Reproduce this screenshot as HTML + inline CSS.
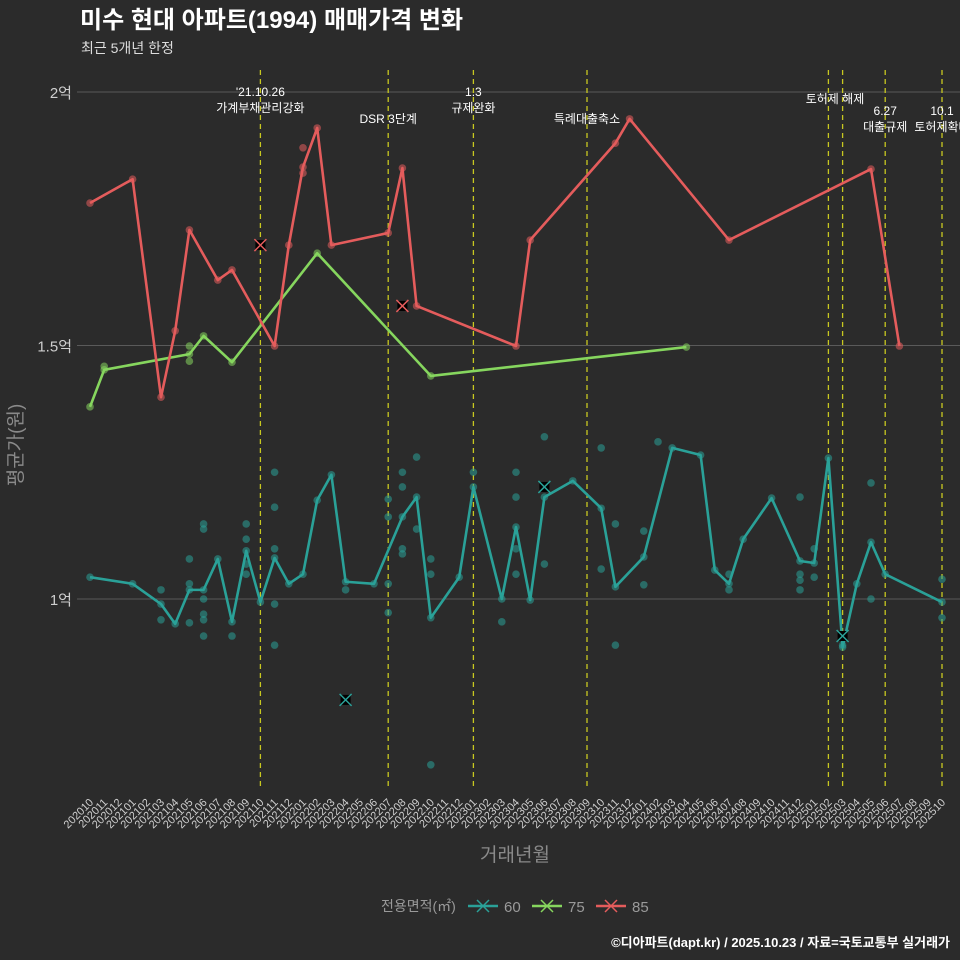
<!DOCTYPE html>
<html><head><meta charset="utf-8">
<style>
body{margin:0;background:#2b2b2b;}
#wrap{position:relative;width:960px;height:960px;background:#2b2b2b;font-family:"Liberation Sans","Noto Sans CJK KR",sans-serif;overflow:hidden}
svg text{font-family:"Liberation Sans","Noto Sans CJK KR",sans-serif}
</style></head>
<body>
<div id="wrap">
<svg id="chart" width="960" height="960" xmlns="http://www.w3.org/2000/svg">
<text x="80" y="28" font-size="24" font-weight="bold" fill="#ffffff">미수 현대 아파트(1994) 매매가격 변화</text>
<text x="81" y="53" font-size="14" fill="#dddddd">최근 5개년 한정</text>
<text x="515" y="861" font-size="19" fill="#8a8a8a" text-anchor="middle">거래년월</text>
<text transform="translate(22,445) rotate(-90)" font-size="19" fill="#8a8a8a" text-anchor="middle">평균가(원)</text>
<text x="950" y="947" font-size="13" font-weight="bold" fill="#ffffff" text-anchor="end">©디아파트(dapt.kr) / 2025.10.23 / 자료=국토교통부 실거래가</text>
<g id="grid"></g><g id="vlines"></g><g id="series"></g><g id="xticks"></g><g id="legend"></g>
</svg>
</div>
<script>
// ---- data ----
const months = [];
for (let y = 2020, m = 10; !(y === 2025 && m === 11); ) { months.push(String(y) + String(m).padStart(2,'0')); m++; if (m > 12) { m = 1; y++; } }
const yTicks = [1, 1.5, 2];
const yTickLabels = ['1억', '1.5억', '2억'];
const s60Months = [0,3,5,6,7,8,9,10,11,12,13,14,15,16,17,18,20,22,23,24,26,27,29,30,31,32,34,36,37,39,41,43,44,45,46,48,50,51,52,53,54,55,56,60];
const s60Values = [1.043,1.030,0.990,0.951,1.018,1.018,1.079,0.955,1.095,0.994,1.081,1.030,1.049,1.195,1.245,1.034,1.030,1.162,1.201,0.963,1.043,1.221,1.000,1.142,0.998,1.201,1.233,1.179,1.024,1.083,1.298,1.284,1.057,1.030,1.118,1.199,1.075,1.071,1.278,0.905,1.030,1.112,1.049,0.994];
const p60Months = [5,5,7,7,7,8,8,8,8,8,8,10,11,11,11,11,13,13,13,13,13,18,21,21,21,21,22,22,22,22,23,23,24,24,24,27,29,30,30,30,30,32,32,36,36,37,37,39,39,40,45,45,50,50,50,50,51,51,55,55,53,60,60];
const p60Values = [1.018,0.959,1.079,1.030,0.953,1.148,1.138,1.000,0.970,0.959,0.927,0.927,1.148,1.118,1.069,1.049,1.250,1.181,1.099,0.990,0.909,1.018,1.197,1.162,1.030,0.973,1.250,1.221,1.099,1.089,1.280,1.138,1.079,1.049,0.673,1.250,0.955,1.250,1.201,1.099,1.049,1.320,1.069,1.298,1.059,1.148,0.909,1.134,1.028,1.310,1.049,1.018,1.201,1.049,1.037,1.018,1.099,1.043,1.229,1.000,0.909,1.039,0.963];
const x60Months = [18,32,53];
const x60Values = [0.801,1.221,0.927];
const s75Months = [0,1,7,8,10,16,24,42];
const s75Values = [1.379,1.452,1.483,1.519,1.467,1.682,1.440,1.497];
const p75Months = [1,7,7];
const p75Values = [1.459,1.499,1.469];
const s85Months = [0,3,5,6,7,9,10,13,14,15,16,17,21,22,23,30,31,37,38,45,55,57];
const s85Values = [1.781,1.828,1.398,1.529,1.728,1.629,1.649,1.499,1.698,1.852,1.929,1.698,1.722,1.850,1.578,1.499,1.708,1.899,1.947,1.708,1.848,1.499];
const p85Months = [15,15];
const p85Values = [1.890,1.840];
const x85Months = [12,22];
const x85Values = [1.698,1.578];
const eventMonths = [12,21,27,35,52,53,56,60];
const eventLabels = [["'21.10.26","가계부채관리강화"],["","DSR 3단계"],["1.3","규제완화"],["","특례대출축소"],["토허제 해제",""],["",""],["6.27","대출규제"],["10.1","토허제확대"]];
// ---- scales ----
const X = m => 90 + m * 14.2;
const Y = v => 599 - (v - 1) * 507;
const NS = 'http://www.w3.org/2000/svg';
function mk(tag, attrs, parent) { const e = document.createElementNS(NS, tag); for (const k in attrs) e.setAttribute(k, attrs[k]); parent.appendChild(e); return e; }
const svg = document.getElementById('chart');
const grid = document.getElementById('grid');
yTicks.forEach((t, i) => {
  const l = mk('line', {x1: 77, x2: 960, y1: Y(t), y2: Y(t), stroke: '#5a5a5a', 'stroke-width': 1}, grid);
  
  
  const tx = mk('text', {x: 72, y: Y(t) + 6, 'font-size': 15, fill: '#cfcfcf', 'text-anchor': 'end'}, grid);
  tx.textContent = yTickLabels[i];
  
  
});
const vl = document.getElementById('vlines');
eventMonths.forEach((m, i) => {
  const l = mk('line', {x1: X(m), x2: X(m), y1: 70, y2: 790, stroke: '#c8c820', 'stroke-width': 1.3, 'stroke-dasharray': '5,4'}, vl);
  
  
  const lab = eventLabels[i];
  let y1 = 96, y2 = 112, cx = X(m);
  if (i === 1 || i === 3) { y2 = 123; }
  if (i === 3) cx = X(m) - 0;
  if (i === 4) { y1 = 103; cx = 835; }
  if (i === 6 || i === 7) { y1 = 115; y2 = 131; }
  if (lab[0]) { const t = mk('text', {x: cx, y: y1, 'font-size': 12, fill: '#ffffff', 'text-anchor': 'middle'}, vl); t.textContent = lab[0];   }
  if (lab[1]) { const t = mk('text', {x: cx, y: y2, 'font-size': 12, fill: '#ffffff', 'text-anchor': 'middle'}, vl); t.textContent = lab[1];   }
});
const ser = document.getElementById('series');
function series(ms, vs, pm, pv, xm, xv, color, name) {
  const g = mk('g', {}, ser);
  
  
  pm.forEach((m, i) => { const c = mk('circle', {cx: X(m), cy: Y(pv[i]), r: 3.8, fill: color, 'fill-opacity': 0.55}, g);   });
  ms.forEach((m, i) => { const c = mk('circle', {cx: X(m), cy: Y(vs[i]), r: 3.8, fill: color, 'fill-opacity': 0.55}, g);   });
  const p = mk('polyline', {points: ms.map((m, i) => X(m) + ',' + Y(vs[i])).join(' '), fill: 'none', stroke: color, 'stroke-width': 2.6, 'stroke-linejoin': 'round'}, g);
  
  
  xm.forEach((m, i) => {
    const cx = X(m), cy = Y(xv[i]);
    const r = mk('rect', {x: cx - 5, y: cy - 5, width: 10, height: 10, fill: '#000'}, g);
    
    
    mk('path', {d: `M${cx-6},${cy-6}L${cx+6},${cy+6}M${cx+6},${cy-6}L${cx-6},${cy+6}`, stroke: color, 'stroke-width': 1.5}, g);
  });
}
series(s60Months, s60Values, p60Months, p60Values, x60Months, x60Values, '#2aa198', 'series-60');
series(s75Months, s75Values, p75Months, p75Values, [], [], '#86d65e', 'series-75');
series(s85Months, s85Values, p85Months, p85Values, x85Months, x85Values, '#e45c5c', 'series-85');
const xt = document.getElementById('xticks');
months.forEach((m, i) => {
  const t = mk('text', {transform: `translate(${X(i) + 4},${803}) rotate(-45)`, 'font-size': 11, fill: '#cfcfcf', 'text-anchor': 'end'}, xt);
  t.textContent = m;
  
  
});
const lg = document.getElementById('legend');
const lt = mk('text', {x: 381, y: 911, 'font-size': 14, fill: '#9a9a9a'}, lg);
lt.textContent = '전용면적(㎡)';


[['60', '#2aa198', 468], ['75', '#86d65e', 532], ['85', '#e45c5c', 596]].forEach(([n, c, x]) => {
  const g = mk('g', {}, lg);
  
  
  mk('line', {x1: x, x2: x + 30, y1: 906, y2: 906, stroke: c, 'stroke-width': 2.5}, g);
  mk('path', {d: `M${x+9},${900}L${x+21},${912}M${x+21},${900}L${x+9},${912}`, stroke: c, 'stroke-width': 1.5}, g);
  const t = mk('text', {x: x + 36, y: 912, 'font-size': 15, fill: '#9a9a9a'}, g);
  t.textContent = n;
});
</script>
</body></html>
